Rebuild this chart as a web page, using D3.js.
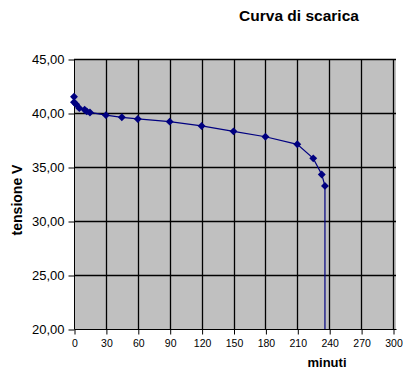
<!DOCTYPE html>
<html><head><meta charset="utf-8">
<script src="https://cdn.jsdelivr.net/npm/d3@7"></script>
<style>body{margin:0;background:#fff}svg{display:block}</style>
</head><body>
<svg id="c" width="403" height="378"></svg>
<script>
const minutes = [0, 0, 2, 5, 10, 12, 15, 30, 45, 60, 90, 120, 150, 180, 210, 225, 233, 236, 236];
const volts   = [41.5, 41.0, 40.8, 40.45, 40.3, 40.15, 40.05, 39.8, 39.6, 39.45, 39.2, 38.8, 38.3, 37.8, 37.1, 35.8, 34.3, 33.25, 0];
const xTicks = [0, 30, 60, 90, 120, 150, 180, 210, 240, 270, 300];
const yTicks = [20, 25, 30, 35, 40, 45];
const title = "Curva di scarica", xTitle = "minuti", yTitle = "tensione V";

const svg = d3.select("#c");
const L = 74, R = 396, T = 59, B = 329;
const x = d3.scaleLinear().domain([0, 300]).range([L, L + 319]);
const y = d3.scaleLinear().domain([20, 45]).range([B, T]);
const font = "'Liberation Sans', Arial, sans-serif";

svg.append("rect").attr("x", L).attr("y", T).attr("width", R - L).attr("height", B - T).attr("fill", "#c0c0c0");

// gridlines
svg.append("g").selectAll("line").data(xTicks.slice(1)).join("line")
  .attr("x1", d => Math.round(x(d)) + 0.5).attr("x2", d => Math.round(x(d)) + 0.5)
  .attr("y1", T).attr("y2", B).attr("stroke", "#000").attr("stroke-width", 1.3);
svg.append("g").selectAll("line").data(yTicks.slice(1)).join("line")
  .attr("y1", d => Math.round(y(d)) + 0.5).attr("y2", d => Math.round(y(d)) + 0.5)
  .attr("x1", L).attr("x2", R).attr("stroke", "#000").attr("stroke-width", 1.3);

// axes
const xAxis = d3.axisBottom(x).tickValues(xTicks).tickSize(5).tickPadding(5).tickFormat(d3.format("d"));
const gx = svg.append("g").attr("transform", `translate(0.5,${B + 0.5})`).call(xAxis);
gx.select(".domain").attr("d", `M${L},0H${R}`).attr("stroke", "#000");
gx.selectAll("text").attr("font-family", "'Liberation Sans Narrow', 'Liberation Sans', Arial, sans-serif").attr("font-size", 10.5).attr("fill", "#000");

const yAxis = d3.axisLeft(y).tickValues(yTicks).tickSize(6).tickPadding(4).tickFormat(d => d3.format(".2f")(d).replace(".", ","));
const gy = svg.append("g").attr("transform", `translate(${L + 0.5},0.5)`).call(yAxis);
gy.select(".domain").attr("d", `M0,${T}V${B}`).attr("stroke", "#000");
gy.selectAll("text").attr("font-family", font).attr("font-size", 13).attr("fill", "#000");

// series
svg.append("clipPath").attr("id", "pc").append("rect").attr("x", L - 8).attr("y", T).attr("width", R - L + 8).attr("height", B - T);
const pts = minutes.map((m, i) => [m, volts[i]]);
const g = svg.append("g").attr("clip-path", "url(#pc)");
g.append("path").datum(pts)
  .attr("d", d3.line().x(d => x(d[0])).y(d => y(d[1])))
  .attr("fill", "none").attr("stroke", "#000080").attr("stroke-width", 1.2);
g.selectAll("path.m").data(pts).join("path").attr("class", "m")
  .attr("transform", d => `translate(${x(d[0])},${y(d[1])})`)
  .attr("d", d3.symbol(d3.symbolDiamond2, 40))
  .attr("fill", "#000080");

// titles
svg.append("text").attr("x", 299).attr("y", 21).attr("text-anchor", "middle")
  .attr("font-family", font).attr("font-weight", "bold").attr("font-size", 15.5).text(title);
svg.append("text").attr("x", 327).attr("y", 367).attr("text-anchor", "middle")
  .attr("font-family", font).attr("font-weight", "bold").attr("font-size", 13).text(xTitle);
svg.append("text").attr("transform", "translate(22,200) rotate(-90)").attr("text-anchor", "middle")
  .attr("font-family", font).attr("font-weight", "bold").attr("font-size", 14).text(yTitle);
</script>
</body></html>
